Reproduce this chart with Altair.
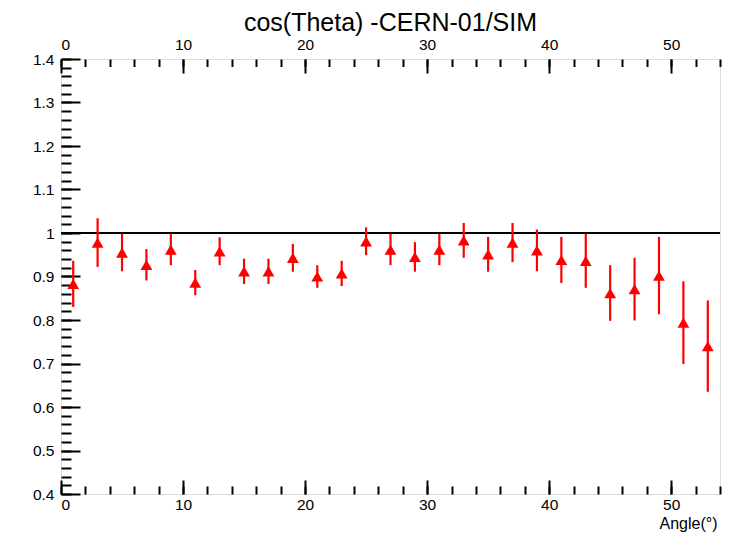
import altair as alt
import pandas as pd

# Bin centres (degrees) and measured ratio with its uncertainty
angle = [1, 3, 5, 7, 9, 11, 13, 15, 17, 19, 21, 23, 25, 27,
         29, 31, 33, 35, 37, 39, 41, 43, 45, 47, 49, 51, 53]
ratio = [0.883, 0.978, 0.955, 0.927, 0.962, 0.886, 0.958, 0.912, 0.912,
         0.943, 0.900, 0.907, 0.981, 0.962, 0.945, 0.962, 0.983, 0.951,
         0.978, 0.960, 0.938, 0.936, 0.862, 0.871, 0.902, 0.794, 0.740]
ratio_err = [0.053, 0.056, 0.043, 0.036, 0.036, 0.029, 0.032, 0.029, 0.029,
             0.032, 0.026, 0.029, 0.032, 0.036, 0.034, 0.036, 0.040, 0.040,
             0.045, 0.048, 0.053, 0.062, 0.064, 0.072, 0.089, 0.095, 0.105]
reference = [1.0]

# Axis tick positions
x_major = [0, 10, 20, 30, 40, 50]
x_minor = [0, 2, 4, 6, 8, 10, 12, 14, 16, 18, 20, 22, 24, 26, 28, 30, 32,
           34, 36, 38, 40, 42, 44, 46, 48, 50, 52, 54]
y_major = [0.4, 0.5, 0.6, 0.7, 0.8, 0.9, 1.0, 1.1, 1.2, 1.3, 1.4]
y_minor = [round(0.4 + 0.02 * i, 2) for i in range(51)]

W, H = 659, 435
FONT = "Liberation Sans"

df = pd.DataFrame({"angle": angle, "ratio": ratio, "err": ratio_err})
df["lo"] = df["ratio"] - df["err"]
df["hi"] = df["ratio"] + df["err"]
ref_df = pd.DataFrame({"ref": reference})

xs = alt.Scale(domain=[0, 54], nice=False, zero=False)
ys = alt.Scale(domain=[0.4, 1.4], nice=False, zero=False)


def label_axis(orient, values, fmt, pad, **kw):
    return alt.Axis(orient=orient, values=values, format=fmt, ticks=False,
                    tickSize=0, domain=False, grid=False, labelPadding=pad,
                    labelFont=FONT, labelFontSize=15.5, labelColor="black",
                    **kw)


def tick_axis(orient, values, size, offset):
    # ticks drawn from the opposite side so they point into the frame
    return alt.Axis(orient=orient, values=values, labels=False, domain=False,
                    grid=False, ticks=True, tickSize=size, tickWidth=2,
                    tickColor="black", offset=offset, title=None)


ref_line = alt.Chart(ref_df).mark_rule(color="black", strokeWidth=2).encode(
    y=alt.Y("ref:Q", scale=ys,
            axis=label_axis("left", y_major, ".1~f", 7, title=None))
)

err_bars = alt.Chart(df).mark_rule(color="#ff0000", strokeWidth=2.2).encode(
    x=alt.X("angle:Q", scale=xs,
            axis=label_axis("bottom", x_major, "d", 3, title="Angle(°)",
                            titleFont=FONT, titleFontSize=16,
                            titleFontWeight="normal", titleColor="black",
                            titleAnchor="end", titleAlign="right",
                            titleBaseline="top", titleX=W - 3, titleY=21)),
    y=alt.Y("lo:Q", scale=ys, axis=tick_axis("right", y_major, 19, -W)),
    y2="hi:Q",
)

markers = alt.Chart(df).mark_point(
    shape="triangle-up", filled=True, size=140, color="#ff0000", opacity=1
).encode(
    x=alt.X("angle:Q", scale=xs,
            axis=label_axis("top", x_major, "d", 7, title=None)),
    y=alt.Y("ratio:Q", scale=ys, axis=tick_axis("right", y_minor, 10, -W)),
)


def carrier(axis):
    return alt.Chart(df).mark_point(opacity=0).encode(
        x=alt.X("angle:Q", scale=xs, axis=axis),
        y=alt.Y("ratio:Q", scale=ys, axis=None),
    )


chart = alt.layer(
    ref_line,
    err_bars,
    markers,
    carrier(tick_axis("top", x_major, 14, -H)),
    carrier(tick_axis("top", x_minor, 8, -H)),
    carrier(tick_axis("bottom", x_major, 14, -H)),
    carrier(tick_axis("bottom", x_minor, 7.5, -H)),
).resolve_axis(x="independent", y="independent").properties(
    width=W,
    height=H,
    title=alt.TitleParams("cos(Theta) -CERN-01/SIM", font=FONT, fontSize=25,
                          fontWeight="normal", color="black",
                          anchor="middle", offset=1),
    autosize=alt.AutoSizeParams(type="none"),
    padding={"left": 61, "top": 59, "right": 18, "bottom": 60},
).configure_view(
    stroke="black", strokeWidth=2
).configure(background="white")

chart.save("out.html", embed_options={"renderer": "svg", "actions": False})
